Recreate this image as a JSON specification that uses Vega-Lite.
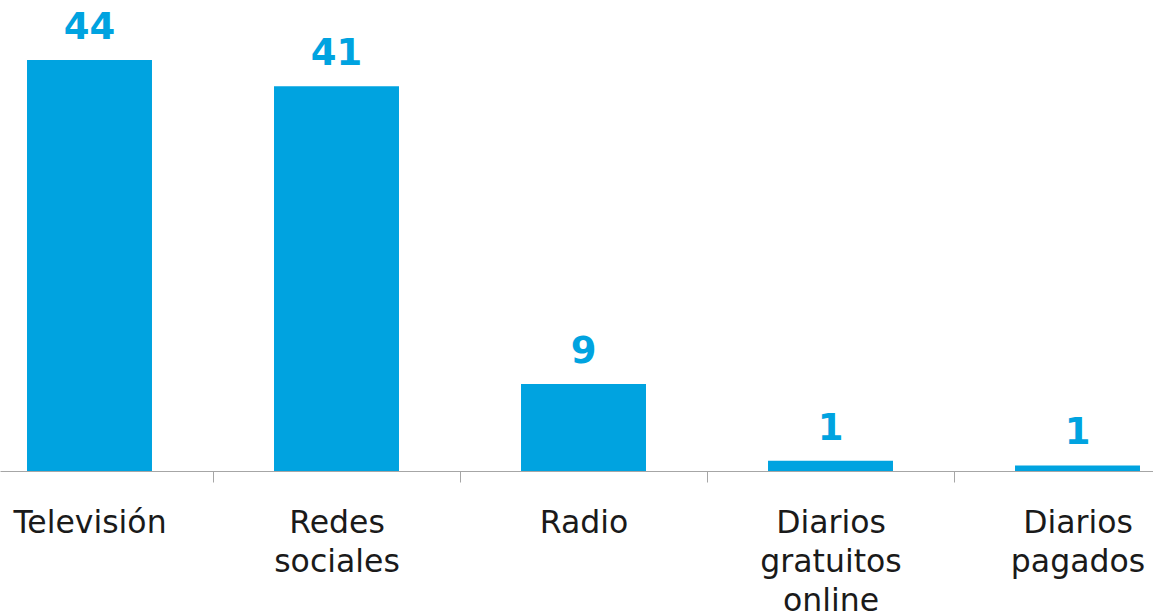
{
  "$schema": "https://vega.github.io/schema/vega-lite/v6.json",
  "width": 1153,
  "height": 471,
  "autosize": "none",
  "padding": {"left": 0, "top": 0, "right": 0, "bottom": 142},
  "background": "white",
  "data": {
    "values": [
      {"medio": "Televisión", "valor": 44},
      {"medio": "Redes sociales", "valor": 41.2},
      {"medio": "Radio", "valor": 9.3},
      {"medio": "Diarios gratuitos online", "valor": 1.1},
      {"medio": "Diarios pagados", "valor": 0.6}
    ]
  },
  "encoding": {
    "x": {
      "field": "medio",
      "type": "nominal",
      "sort": null,
      "scale": {"paddingInner": 0.494, "paddingOuter": 0.081, "align": 0.675},
      "axis": {
        "title": null,
        "labelAngle": 0,
        "tickBand": "center",
        "tickOffset": 123.5,
        "labelOffset": -123.5,
        "tickSize": 11,
        "tickColor": "#a6a6a6",
        "domainColor": "#a6a6a6",
        "labelFont": "DejaVu Sans",
        "labelFontSize": 31.5,
        "labelColor": "#1a1a1a",
        "labelLineHeight": 39,
        "labelBaseline": "top",
        "labelPadding": 25,
        "labelLimit": 0,
        "labelExpr": "split(datum.label, ' ')"
      }
    },
    "y": {
      "field": "valor",
      "type": "quantitative",
      "scale": {"domain": [0, 50.42]},
      "axis": null
    }
  },
  "layer": [
    {"mark": {"type": "bar", "color": "#00A3E0"}},
    {
      "mark": {
        "type": "text",
        "dy": -21,
        "baseline": "alphabetic",
        "font": "DejaVu Sans",
        "fontWeight": "bold",
        "fontSize": 37,
        "color": "#00A3E0"
      },
      "encoding": {"text": {"field": "valor", "type": "quantitative", "format": ".0f"}}
    }
  ],
  "config": {"view": {"stroke": null}}
}
